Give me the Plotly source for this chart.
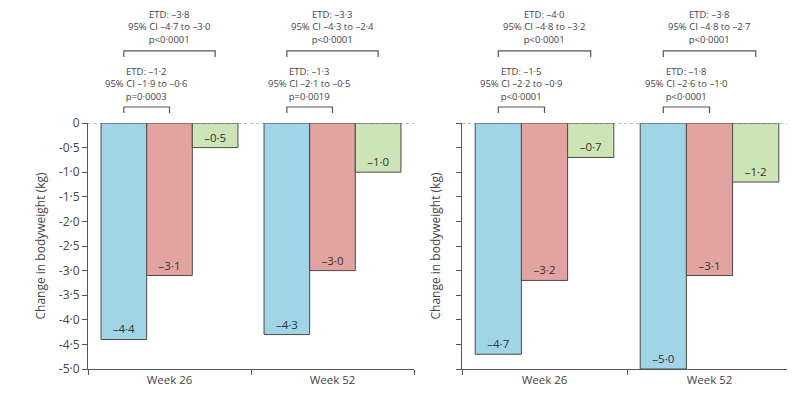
import plotly.graph_objects as go

# ---------------- data ----------------
categories = ["Week 26", "Week 52"]
left_blue = [-4.4, -4.3]
left_red = [-3.1, -3.0]
left_green = [-0.5, -1.0]
right_blue = [-4.7, -5.0]
right_red = [-3.2, -3.1]
right_green = [-0.7, -1.2]

left_inner = [["ETD: –1·2", "95% CI –1·9 to –0·6", "p=0·0003"],
              ["ETD: –1·3", "95% CI –2·1 to –0·5", "p=0·0019"]]
left_outer = [["ETD: –3·8", "95% CI –4·7 to –3·0", "p<0·0001"],
              ["ETD: –3·3", "95% CI –4·3 to –2·4", "p<0·0001"]]
right_inner = [["ETD: –1·5", "95% CI –2·2 to –0·9", "p<0·0001"],
               ["ETD: –1·8", "95% CI –2·6 to –1·0", "p<0·0001"]]
right_outer = [["ETD: –4·0", "95% CI –4·8 to –3·2", "p<0·0001"],
               ["ETD: –3·8", "95% CI –4·8 to –2·7", "p<0·0001"]]

tick_vals = [0, -0.5, -1.0, -1.5, -2.0, -2.5, -3.0, -3.5, -4.0, -4.5, -5.0]
tick_text = ["0"] + [f"-{abs(v):.1f}".replace(".", "·") for v in tick_vals[1:]]

colors = ["#a0d5e8", "#e3a3a1", "#cde5b6"]
FONT = "Open Sans"
TXT = "#444444"
AX = "#555555"
BARGAP = 0.16


def fmt(v):
    return f"–{abs(v):.1f}".replace(".", "·")


fig = go.Figure()

panels = [
    ("x", "y", [left_blue, left_red, left_green], left_inner, left_outer),
    ("x2", "y2", [right_blue, right_red, right_green], right_inner, right_outer),
]

bar_w = (1 - BARGAP) / 3
shapes = []
annotations = []
for xa, ya, series, inner, outer in panels:
    for vals, col in zip(series, colors):
        fig.add_trace(go.Bar(
            x=categories, y=vals, xaxis=xa, yaxis=ya,
            marker=dict(color=col, line=dict(color="#4a4a4a", width=1)),
            text=[fmt(v) for v in vals], textposition="inside",
            insidetextanchor="end", textangle=0,
            textfont=dict(family=FONT, size=11.5, color="#333333"),
            showlegend=False, hoverinfo="skip", cliponaxis=False,
        ))
    # zero dashed line
    shapes.append(dict(type="line", xref=f"{xa} domain", yref=ya,
                       x0=0, x1=1, y0=0, y1=0,
                       line=dict(color="#777777", width=1, dash="dot")))
    ydom = f"{ya} domain"
    for i in range(len(categories)):
        blue_c = i - bar_w
        red_c = i
        green_c = i + bar_w
        for (xl, xr, yb, ye, ytxt, lines) in [
            (blue_c, red_c, 1.065, 1.041, 1.157, inner[i]),
            (blue_c, green_c, 1.293, 1.268, 1.392, outer[i]),
        ]:
            shapes.append(dict(type="path", xref=xa, yref=ydom,
                               path=f"M {xl},{ye} L {xl},{yb} L {xr},{yb} L {xr},{ye}",
                               line=dict(color="#555555", width=1.2)))
            annotations.append(dict(xref=xa, yref=ydom, x=(xl + xr) / 2, y=ytxt,
                                    text="<br>".join(lines), showarrow=False,
                                    xanchor="center", yanchor="middle", align="center",
                                    font=dict(family=FONT, size=9.5, color=TXT)))

H = 393
W = 795
OFF = 8  # page offset of the figure inside the browser window
y_dom = [(H - (369 - OFF)) / H, (H - (123 - OFF)) / H]

axis_common = dict(showline=True, linecolor=AX, linewidth=1, ticks="outside",
                   tickcolor=AX, ticklen=5, tickwidth=1, showgrid=False, zeroline=False,
                   automargin=False)

fig.update_layout(
    width=W, height=H,
    margin=dict(l=0, r=0, t=0, b=0, pad=0, autoexpand=False),
    plot_bgcolor="white", paper_bgcolor="white",
    barmode="group", bargap=BARGAP, bargroupgap=0,
    font=dict(family=FONT, color=TXT, size=11),
    shapes=shapes, annotations=annotations,
    xaxis=dict(domain=[(88 - OFF) / W, (414 - OFF) / W], anchor="y", tickson="boundaries",
               tickfont=dict(size=11.5, color=TXT), **axis_common),
    xaxis2=dict(domain=[(462 - OFF) / W, (792 - OFF) / W], anchor="y2", tickson="boundaries",
                tickfont=dict(size=11.5, color=TXT), **axis_common),
    yaxis=dict(domain=y_dom, anchor="x", range=[-5, 0], tickvals=tick_vals,
               ticktext=tick_text, tickfont=dict(size=12, color=TXT),
               title=dict(text="Change in bodyweight (kg)", font=dict(size=12, color=TXT), standoff=10),
               **axis_common),
    yaxis2=dict(domain=y_dom, anchor="x2", range=[-5, 0], tickvals=tick_vals,
                showticklabels=False,
                title=dict(text="Change in bodyweight (kg)", font=dict(size=12, color=TXT), standoff=12),
                **axis_common),
)

fig.write_html("out.html")
